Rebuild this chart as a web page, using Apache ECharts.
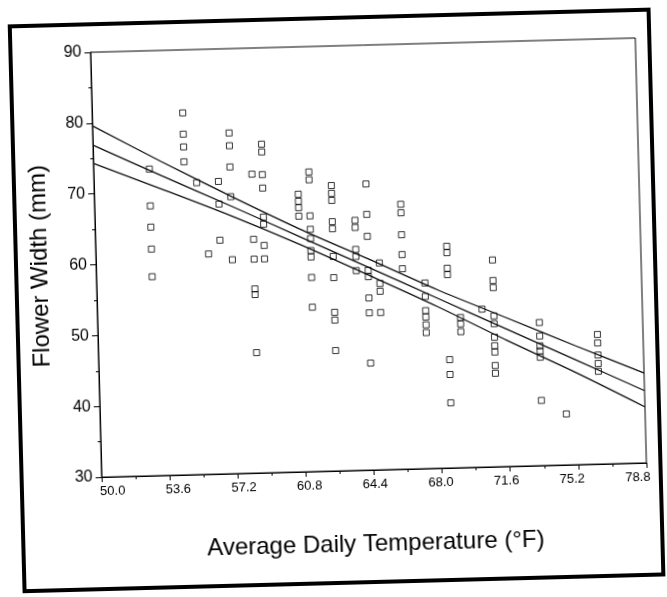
<!DOCTYPE html>
<html>
<head>
<meta charset="utf-8">
<script src="https://cdn.jsdelivr.net/npm/echarts@6/dist/echarts.min.js"></script>
<style>
html,body{margin:0;padding:0;background:#fff;overflow:hidden;}
#chart{width:667px;height:597px;transform:rotate(-1.5deg);transform-origin:50% 50%;}
</style>
</head>
<body>
<div id="chart"></div>
<script>
// Temperature of each column of observations (°F)
const columnTemps = [52.95, 54.79, 55.43, 55.96, 56.58, 57.21, 58.36, 58.91, 60.78, 61.37, 62.54, 63.74,
  64.37, 64.97, 66.18, 67.35, 68.55, 69.18, 70.33, 70.95, 73.34, 74.64, 76.39];
// Flower widths (mm) observed in each column
const columnWidths = [
  [73.3, 68.1, 65.1, 62.0, 58.1],
  [81.1, 78.1, 76.3, 74.2],
  [71.2],
  [61.1],
  [71.3, 68.1, 63.0],
  [78.1, 76.3, 73.3, 69.1, 60.2],
  [72.2, 63.0, 60.2, 56.0, 55.2, 47.0],
  [76.4, 75.3, 72.1, 70.2, 66.1, 65.1, 62.1, 60.2],
  [69.2, 68.2, 67.3, 66.1],
  [72.3, 71.2, 66.1, 64.2, 62.9, 61.2, 60.3, 57.4, 53.2],
  [70.3, 69.2, 68.2, 65.2, 64.2, 60.3, 57.3, 52.4, 51.3, 47.0],
  [65.3, 64.3, 61.2, 60.2, 58.2],
  [70.4, 66.1, 63.0, 58.2, 57.3, 54.3, 52.2, 45.1],
  [59.2, 56.3, 55.2, 52.2],
  [67.4, 66.2, 63.1, 60.3, 58.3],
  [56.2, 54.3, 52.3, 51.4, 50.3, 49.2],
  [61.3, 60.4, 58.2, 57.3, 45.3, 43.2, 39.2],
  [51.2, 50.3, 49.2],
  [52.3],
  [59.2, 56.3, 55.3, 51.3, 50.2, 48.3, 47.1, 46.2, 44.3, 43.2],
  [50.2, 48.3, 46.9, 46.2, 45.3, 39.2],
  [37.2],
  [48.3, 47.1, 45.4, 44.2, 43.1]
];
// Regression line and confidence band, read at the x tick positions
const bandTemps   = [50.0, 53.6, 57.2, 60.8, 64.4, 68.0, 71.6, 75.2, 78.8];
const fitWidths   = [76.9, 72.3, 67.8, 63.2, 58.6, 54.0, 49.4, 44.8, 40.2];
const upperWidths = [79.6, 74.3, 69.2, 64.3, 59.8, 55.2, 51.0, 46.8, 42.7];
const lowerWidths = [74.3, 70.4, 66.4, 62.1, 57.5, 52.8, 47.8, 43.0, 37.9];
// Axis ticks and tick labels
const xMin = 50.0, xMax = 78.8, xStep = 3.6;
const xTickLabels = [50.0, 53.6, 57.2, 60.8, 64.4, 68.0, 71.6, 75.2, 78.8];
const yMin = 30, yMax = 90, yStep = 10;

const points = [];
columnTemps.forEach((t, i) => columnWidths[i].forEach(w => points.push([t, w])));
const toLine = arr => bandTemps.map((t, i) => [t, arr[i]]);

const FONT = "'Liberation Sans', Arial, Helvetica, sans-serif";
const chart = echarts.init(document.getElementById('chart'), null, {renderer: 'canvas'});
const lineSeries = (name, arr) => ({
  name, type: 'line', data: toLine(arr), showSymbol: false, smooth: 0.3,
  lineStyle: {color: '#111', width: 1.3}, z: 3, silent: true
});
chart.setOption({
  animation: false,
  backgroundColor: '#fff',
  textStyle: {fontFamily: FONT, color: '#000'},
  graphic: [{
    type: 'rect', shape: {x: 17, y: 18, width: 639, height: 565},
    style: {fill: 'none', stroke: '#000', lineWidth: 4}, silent: true
  }],
  grid: {left: 97, top: 46, right: 25, bottom: 126, show: true, borderColor: '#000', borderWidth: 1, backgroundColor: 'transparent'},
  xAxis: [{
    type: 'value', min: xMin, max: xMax, interval: xStep,
    name: 'Average Daily Temperature (°F)', nameLocation: 'middle', nameGap: 62,
    nameTextStyle: {fontSize: 24, color: '#000', fontFamily: FONT},
    axisLine: {show: true, onZero: false, lineStyle: {color: '#000', width: 1}},
    axisTick: {show: true, length: 5, lineStyle: {color: '#000'}},
    minorTick: {show: true, splitNumber: 2, length: 3, lineStyle: {color: '#000'}},
    splitLine: {show: false},
    axisLabel: {show: false}
  }, {
    // label-only axis: the original plot prints its tick labels slightly pulled toward the centre
    type: 'value', position: 'bottom', min: 49.41, max: 79.29,
    axisLine: {show: false}, axisTick: {show: false}, splitLine: {show: false},
    axisLabel: {show: true, customValues: xTickLabels, color: '#000', fontSize: 13, margin: 8, fontFamily: FONT,
      formatter: v => Number(v).toFixed(1)}
  }],
  yAxis: {
    type: 'value', min: yMin, max: yMax, interval: yStep,
    name: 'Flower Width (mm)', nameLocation: 'middle', nameGap: 44,
    nameTextStyle: {fontSize: 24, color: '#000', fontFamily: FONT},
    axisLine: {show: true, onZero: false, lineStyle: {color: '#000', width: 1}},
    axisTick: {show: true, length: 6, lineStyle: {color: '#000'}},
    minorTick: {show: true, splitNumber: 2, length: 3, lineStyle: {color: '#000'}},
    splitLine: {show: false},
    axisLabel: {color: '#000', fontSize: 16, margin: 9, fontFamily: FONT}
  },
  series: [
    {
      name: 'Observations', type: 'scatter', data: points, symbol: 'rect', symbolSize: 6,
      itemStyle: {color: 'rgba(0,0,0,0)', borderColor: '#000', borderWidth: 1}, z: 4
    },
    lineSeries('Upper band', upperWidths),
    lineSeries('Fit', fitWidths),
    lineSeries('Lower band', lowerWidths)
  ]
});
</script>
</body>
</html>
